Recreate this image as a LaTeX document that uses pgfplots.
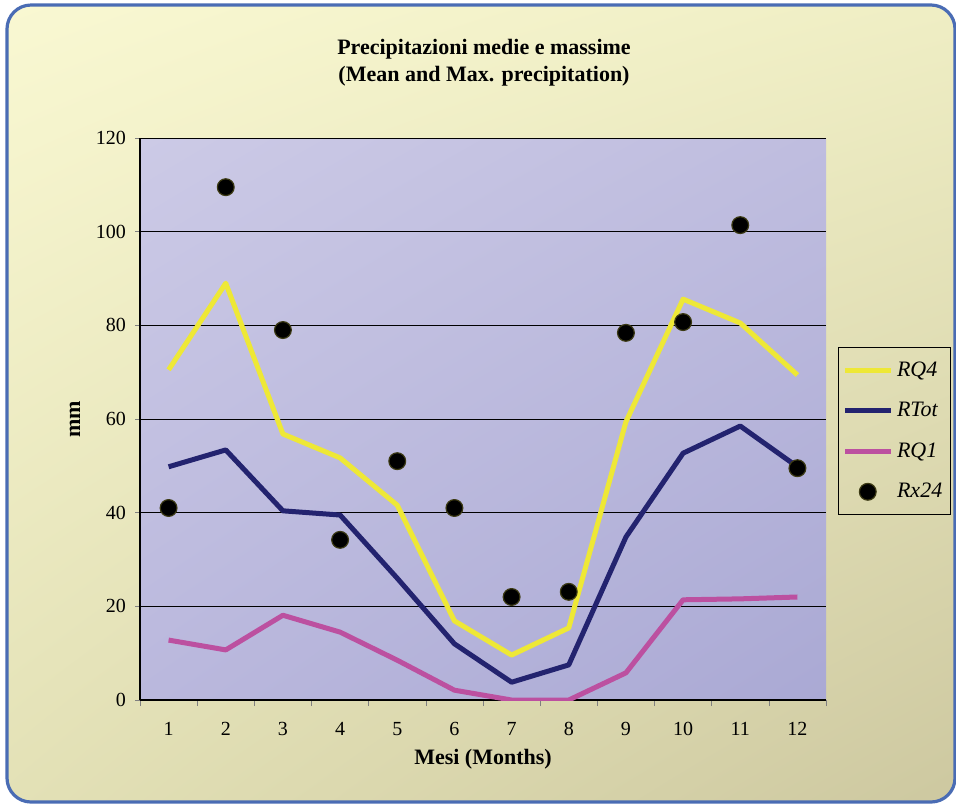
\documentclass[border=0pt]{standalone}
\usepackage{pgfplots}
\pgfplotsset{compat=1.18}
\usetikzlibrary{shadings}
\usepackage{fontspec}
\setmainfont{Liberation Serif}
\definecolor{frameblue}{HTML}{4A6CB4}
\definecolor{bgTL}{HTML}{F9F8D2}
\definecolor{bgTR}{HTML}{EFEEC4}
\definecolor{bgBL}{HTML}{E3E1B6}
\definecolor{bgBR}{HTML}{CDC8A0}
\definecolor{paTL}{HTML}{CCCAE6}
\definecolor{paTR}{HTML}{BFBDDF}
\definecolor{paBL}{HTML}{BAB8DD}
\definecolor{paBR}{HTML}{AAA9D4}
\definecolor{cyellow}{HTML}{EEE836}
\definecolor{cnavy}{HTML}{23236F}
\definecolor{cmag}{HTML}{BC50A0}
\definecolor{cmarkedge}{HTML}{3C3A14}
\begin{document}
\begin{tikzpicture}
\useasboundingbox (0pt,0pt) rectangle (478pt,-402.5pt);
\shade[rounded corners=12pt, upper left=bgTL, upper right=bgTR, lower left=bgBL, lower right=bgBR]
  (3.5pt,-2.5pt) rectangle (477.5pt,-401pt);
\draw[frameblue, line width=1.6pt, rounded corners=12pt] (3.5pt,-2.5pt) rectangle (477.5pt,-401pt);
\node[align=center, font=\bfseries\fontsize{11}{13.5}\selectfont] at (242pt,-31.5pt)
  {Precipitazioni medie e massime\\(Mean and Max. precipitation)};
\node[rotate=90, font=\bfseries\fontsize{11}{13}\selectfont] at (37.5pt,-209.5pt) {mm};
\node[font=\bfseries\fontsize{11}{13}\selectfont] at (241.5pt,-379.5pt) {Mesi (Months)};
\begin{axis}[
  at={(70pt,-350pt)}, anchor=south west,
  scale only axis, width=343pt, height=281pt,
  xmin=0.5, xmax=12.5, ymin=0, ymax=120,
  axis lines*=left, axis line style={-, black, line width=0.6pt},
  axis background/.style={shade, upper left=paTL, upper right=paTR, lower left=paBL, lower right=paBR},
  ytick={0,20,...,120},
  xtick={1,...,12},
  minor xtick={0.5,1.5,...,12.5},
  tick align=outside,
  major x tick style={draw=none},
  minor tick length=3pt,
  major tick length=2.5pt,
  ymajorgrids, major grid style={black, line width=0.5pt},
  /pgf/number format/assume math mode=true,
  ticklabel style={font=\fontsize{10}{12}\selectfont},
  yticklabel style={xshift=-1pt},
  xticklabel style={yshift=-5pt},
  legend style={at={(1,0.5)}, anchor=west, xshift=6pt, yshift=-6pt,
    fill=none, draw=black, line width=0.5pt, font=\itshape\fontsize{11}{13}\selectfont,
    row sep=7.5pt, inner xsep=2pt, inner ysep=5pt, cells={anchor=west}},
  legend image code/.code={\draw[#1, mark repeat=2, mark phase=2] plot coordinates {(0cm,0cm) (0.4cm,0cm) (0.8cm,0cm)};},
  every axis plot/.append style={line width=2.5pt, line join=round},
]
\addplot[cyellow, no markers] coordinates {(1,70.5) (2,89) (3,56.8) (4,51.7) (5,41.6) (6,16.9) (7,9.6) (8,15.4) (9,59.4) (10,85.6) (11,80.5) (12,69.4)};
\addlegendentry{RQ4}
\addplot[cnavy, no markers] coordinates {(1,49.8) (2,53.4) (3,40.4) (4,39.5) (5,26) (6,12) (7,3.8) (8,7.5) (9,34.8) (10,52.7) (11,58.5) (12,49.8)};
\addlegendentry{RTot}
\addplot[cmag, no markers] coordinates {(1,12.8) (2,10.7) (3,18.1) (4,14.5) (5,8.5) (6,2.1) (7,0) (8,0) (9,5.8) (10,21.4) (11,21.6) (12,22)};
\addlegendentry{RQ1}
\addplot[only marks, mark=*, mark size=4.2pt, mark options={fill=black, draw=cmarkedge, line width=0.6pt}] coordinates {(1,41) (2,109.5) (3,79) (4,34.2) (5,51) (6,41) (7,22) (8,23.1) (9,78.4) (10,80.7) (11,101.4) (12,49.5)};
\addlegendentry{Rx24}
\end{axis}
\end{tikzpicture}
\end{document}
